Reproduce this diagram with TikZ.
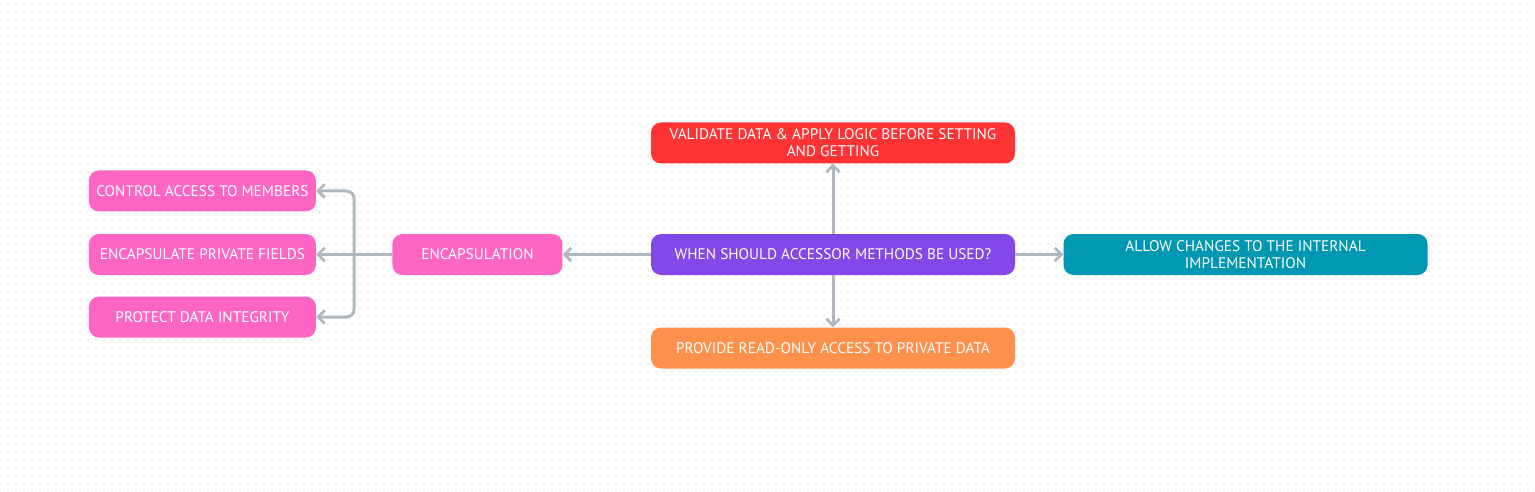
\documentclass[tikz,border=0pt]{standalone}
\usepackage{fontspec}
\setmainfont{PT Sans}
\usepackage{xcolor}
\usetikzlibrary{positioning,arrows.meta,patterns}

\definecolor{hubpurple}{HTML}{8447E8}
\definecolor{topred}{HTML}{FF3333}
\definecolor{botorange}{HTML}{FF914D}
\definecolor{rightteal}{HTML}{0097B2}
\definecolor{leafpink}{HTML}{FF66C4}
\definecolor{linkgray}{HTML}{AEB8BE}
\definecolor{dotgray}{HTML}{EFEFEF}

% faint dot grid, 8px pitch
\pgfdeclarepatternformonly{griddots}{\pgfpoint{-1pt}{-1pt}}{\pgfpoint{1pt}{1pt}}{\pgfpoint{6pt}{6pt}}{%
  \pgfpathrectangle{\pgfpoint{-0.6pt}{-0.6pt}}{\pgfpoint{1.2pt}{1.2pt}}%
  \pgfusepath{fill}}

\begin{document}
\begin{tikzpicture}[
  x=0.75pt, y=-0.75pt,
  font=\fontsize{11.5}{12.75}\selectfont,
  topic/.style={
    rounded corners=7.5pt,
    minimum height=30.75pt,
    inner sep=2pt,
    text=white,
    align=center
  },
  wide/.style={topic, minimum width=273pt},
  hub/.style={wide, fill=hubpurple},      % central question
  leaf/.style={topic, fill=leafpink, minimum width=170.25pt},
  link/.style={draw=linkgray, line width=2.25pt},
  arr/.style={link, -{Straight Barb[length=5pt,width=10pt,line width=2pt]}}
]
\useasboundingbox (0,0) rectangle (1535,492);
\fill[pattern=griddots, pattern color=dotgray] (0,0) rectangle (1535,492);

% --- central question ---
\node[hub] (q) at (833,254.5) {WHEN SHOULD ACCESSOR METHODS BE USED?};

% --- direct answers ---
\node[wide, fill=topred, above=52.5pt of q] (valid)
  {VALIDATE DATA \& APPLY LOGIC BEFORE SETTING\\AND GETTING};
\node[wide, fill=botorange, below=39pt of q] (ronly)
  {PROVIDE READ-ONLY ACCESS TO PRIVATE DATA};
\node[wide, fill=rightteal, right=36pt of q] (impl)
  {ALLOW CHANGES TO THE INTERNAL\\IMPLEMENTATION};
\node[leaf, minimum width=127.5pt, left=66pt of q] (encap) {ENCAPSULATION};

% --- encapsulation details ---
\node[leaf, left=57pt of encap] (fields) {ENCAPSULATE PRIVATE FIELDS};
\node[leaf, above=16.5pt of fields] (ctrl) {CONTROL ACCESS TO MEMBERS};
\node[leaf, below=15.75pt of fields] (prot) {PROTECT DATA INTEGRITY};

% --- connectors ---
\draw[arr] (q) -- (valid);
\draw[arr] (q) -- (ronly);
\draw[arr] (q) -- (impl);
\draw[arr] (q) -- (encap);

\draw[link] (encap.west) -- ++(-38,0) coordinate (trunk);
\draw[arr, rounded corners=6pt] (trunk) |- (ctrl.east);
\draw[arr] (trunk) -- (fields.east);
\draw[arr, rounded corners=6pt] (trunk) |- (prot.east);

\end{tikzpicture}
\end{document}
